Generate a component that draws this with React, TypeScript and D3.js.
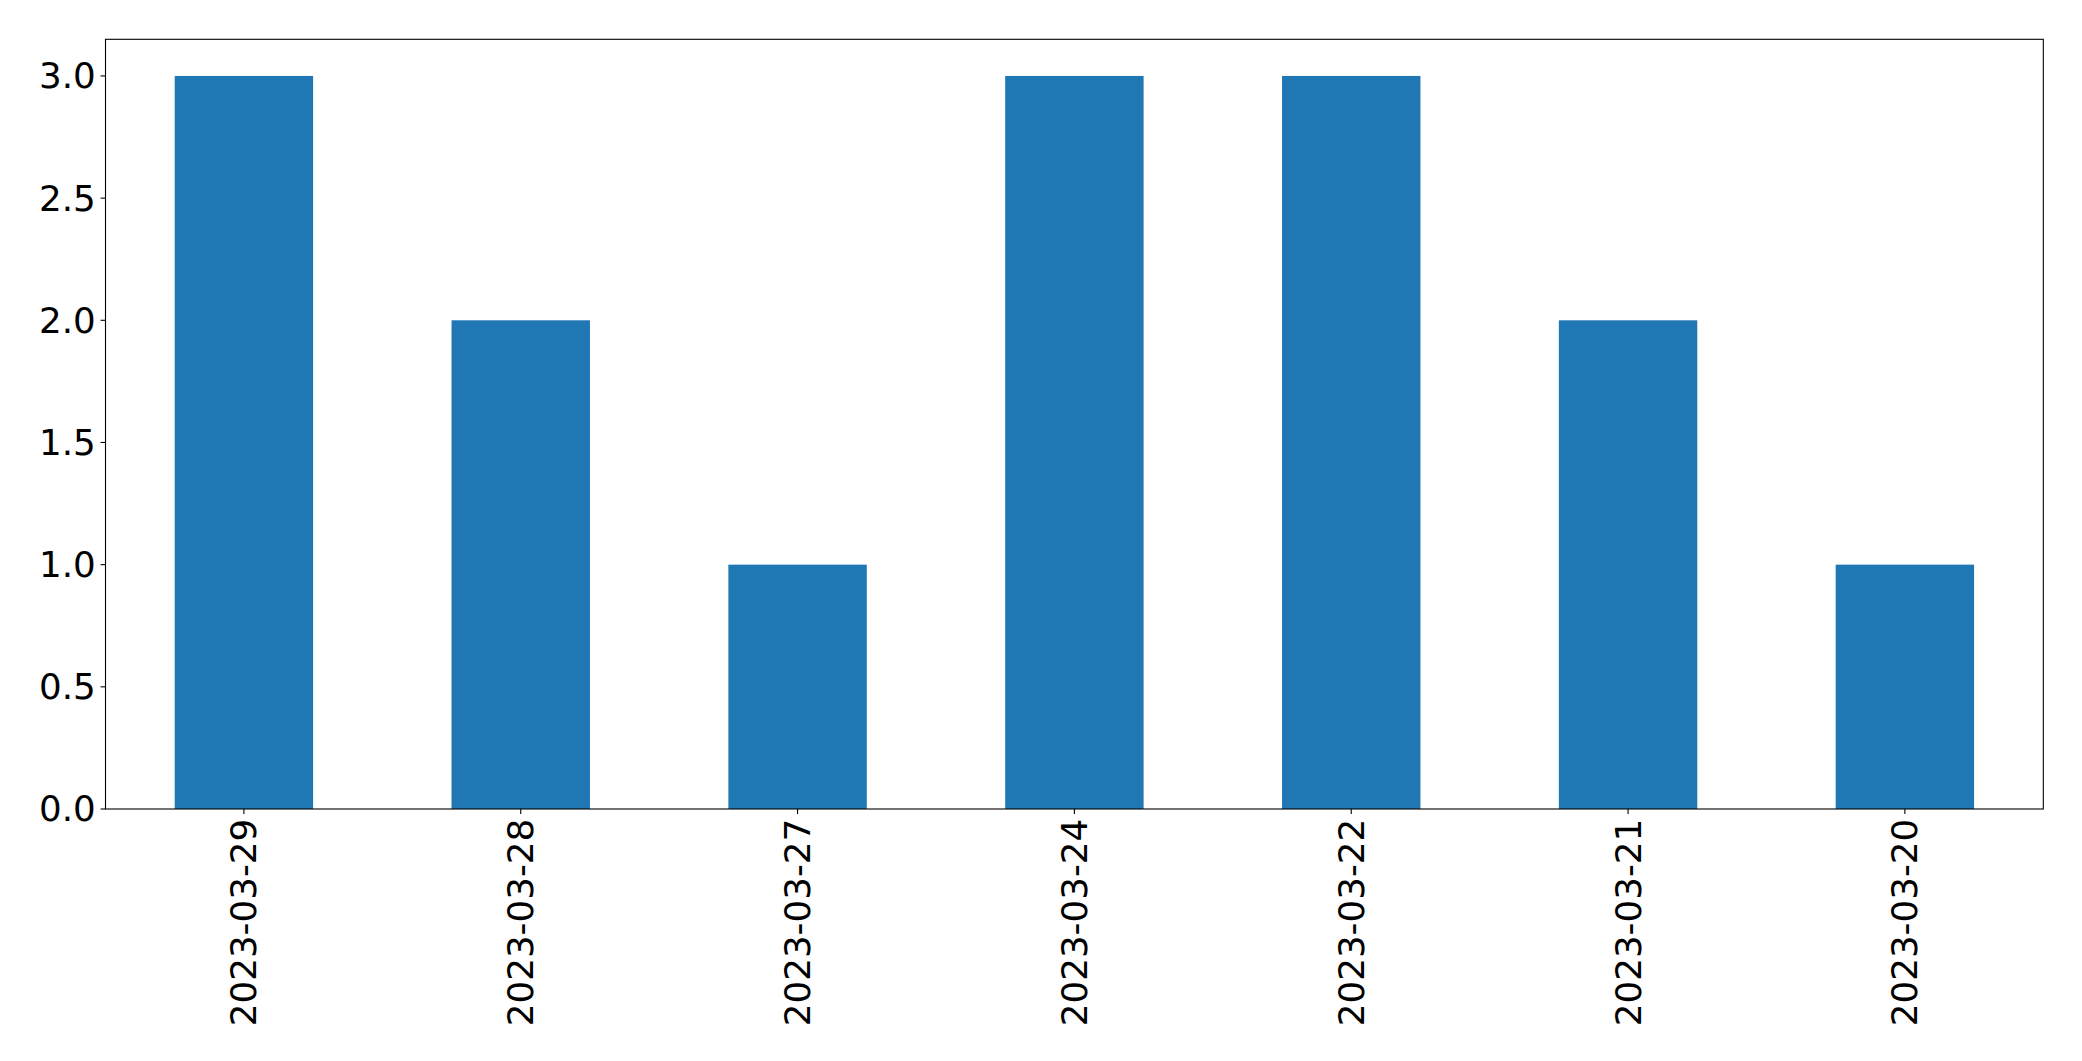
import React from "react";
import * as d3 from "d3";

const categories = ["2023-03-29", "2023-03-28", "2023-03-27", "2023-03-24", "2023-03-22", "2023-03-21", "2023-03-20"];
const values = [3, 2, 1, 3, 3, 2, 1];
const yTicks = [0, 0.5, 1.0, 1.5, 2.0, 2.5, 3.0];

export default function App() {
  const W = 2082, H = 1061;
  const left = 105.5, right = 2043.3, top = 39.3, bottom = 809;
  const x = d3.scaleLinear().domain([-0.5, categories.length - 0.5]).range([left, right]);
  const y = d3.scaleLinear().domain([0, 3.15]).range([bottom, top]);
  const fs = 35.7;
  const tickLen = 4.9, pad = 4.9;
  const font = "'DejaVu Sans', sans-serif";
  return (
    <svg width={W} height={H} style={{ position: "absolute", left: 0, top: 0 }}>
      <rect x={0} y={0} width={W} height={H} fill="white" />
      {values.map((v, i) => (
        <rect key={i} x={x(i - 0.25)} y={y(v)} width={x(i + 0.25) - x(i - 0.25)} height={y(0) - y(v)} fill="#1f77b4" />
      ))}
      <rect x={left} y={top} width={right - left} height={bottom - top} fill="none" stroke="black" strokeWidth={1.1} />
      {yTicks.map((t) => (
        <g key={t}>
          <line x1={left - tickLen} x2={left} y1={y(t)} y2={y(t)} stroke="black" strokeWidth={1.1} />
          <text x={left - tickLen - pad} y={y(t)} dy="0.35em" textAnchor="end" fontFamily={font} fontSize={fs} fill="black">
            {t.toFixed(1)}
          </text>
        </g>
      ))}
      {categories.map((c, i) => (
        <g key={c}>
          <line x1={x(i)} x2={x(i)} y1={bottom} y2={bottom + tickLen} stroke="black" strokeWidth={1.1} />
          <text
            transform={`translate(${x(i)},${bottom + tickLen + pad}) rotate(-90)`}
            textAnchor="end"
            dy="0.35em"
            fontFamily={font}
            fontSize={fs}
            fill="black"
          >
            {c}
          </text>
        </g>
      ))}
    </svg>
  );
}
